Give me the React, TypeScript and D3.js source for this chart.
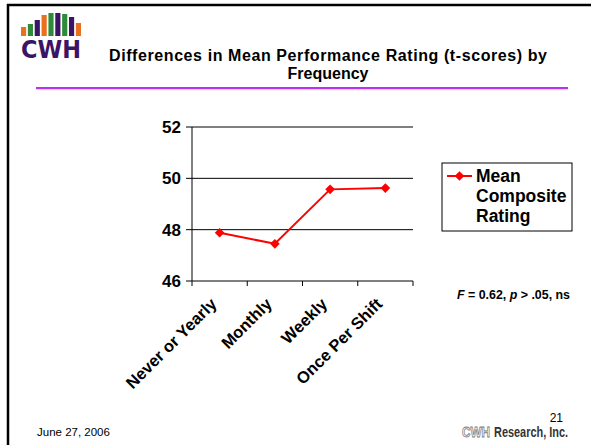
import React from "react";
import * as d3 from "d3";

const categories = ["Never or Yearly", "Monthly", "Weekly", "Once Per Shift"];
const meanComposite = [47.88, 47.45, 49.57, 49.62];
const yTicks = [46, 48, 50, 52];
const titleLines = ["Differences in Mean Performance Rating (t-scores) by", "Frequency"];
const legendLines = ["Mean", "Composite", "Rating"];
const logoBars = [
  { c: "#e8701e", h: 9 },
  { c: "#2e8b3a", h: 12 },
  { c: "#3b1466", h: 16 },
  { c: "#e8701e", h: 21 },
  { c: "#2e8b3a", h: 23 },
  { c: "#3b1466", h: 23 },
  { c: "#2e8b3a", h: 22 },
  { c: "#3b1466", h: 19 },
  { c: "#e8701e", h: 13 },
];

const FONT = "'Liberation Sans', Arial, sans-serif";

export default function App() {
  const x = d3.scaleBand<string>().domain(categories).range([192, 413]);
  const y = d3.scaleLinear().domain([46, 52]).range([281, 127]);
  const line = d3
    .line<number>()
    .x((_, i) => (x(categories[i]) as number) + x.bandwidth() / 2)
    .y((d) => y(d));
  const diamond = d3.symbol().type(d3.symbolDiamond2).size(60)() as string;
  const barX = d3.scaleBand<number>().domain(d3.range(logoBars.length)).range([21, 81]).paddingInner(0.25);

  return (
    <svg width={591} height={445} style={{ position: "absolute", left: 0, top: 0 }} fontFamily={FONT}>
      <rect x={0} y={0} width={591} height={445} fill="#fff" />
      {/* slide border */}
      <line x1={7} x2={591} y1={5} y2={5} stroke="#000" strokeWidth={2.5} />
      <line x1={8} x2={8} y1={4} y2={445} stroke="#000" strokeWidth={2.5} />

      {/* logo */}
      {logoBars.map((b, i) => (
        <rect key={i} x={barX(i)} y={36 - b.h} width={barX.bandwidth()} height={b.h} fill={b.c} />
      ))}
      <text x={21} y={58} fontSize={25} fontWeight="bold" fill="#3b1466" textLength={60} lengthAdjust="spacingAndGlyphs" fontFamily="'DejaVu Sans', sans-serif">
        CWH
      </text>

      {/* title */}
      <text x={328} y={61} textAnchor="middle" fontSize={16} fontWeight="bold" fill="#000" textLength={438} lengthAdjust="spacing">
        {titleLines[0]}
      </text>
      <text x={328} y={79} textAnchor="middle" fontSize={16} fontWeight="bold" fill="#000">
        {titleLines[1]}
      </text>
      <line x1={36} x2={568} y1={88} y2={88} stroke="#b833ee" strokeWidth={2} />
      <line x1={36} x2={568} y1={89.7} y2={89.7} stroke="#e3c2f5" strokeWidth={1} />

      {/* grid + y axis */}
      {yTicks.map((t) => (
        <g key={t}>
          <line x1={186} x2={413} y1={y(t)} y2={y(t)} stroke="#000" strokeWidth={1} />
          <text x={181} y={y(t) + 6} textAnchor="end" fontSize={17} fontWeight="bold" fill="#000">
            {t}
          </text>
        </g>
      ))}
      <line x1={192} x2={192} y1={y(52)} y2={y(46)} stroke="#000" strokeWidth={1} />
      {/* x ticks */}
      {[...categories.map((c) => x(c) as number), 413].map((v, i) => (
        <line key={i} x1={v} x2={v} y1={y(46)} y2={y(46) + 5} stroke="#000" strokeWidth={1} />
      ))}
      {categories.map((c) => {
        const cx = (x(c) as number) + x.bandwidth() / 2;
        return (
          <text
            key={c}
            transform={`translate(${cx - 2},${305}) rotate(-45)`}
            textAnchor="end"
            fontSize={16.5}
            fontWeight="bold"
            fill="#000"
          >
            {c}
          </text>
        );
      })}

      {/* series */}
      <path d={line(meanComposite) as string} fill="none" stroke="#ff0000" strokeWidth={2} />
      {meanComposite.map((v, i) => (
        <path
          key={i}
          d={diamond}
          transform={`translate(${(x(categories[i]) as number) + x.bandwidth() / 2},${y(v)})`}
          fill="#ff0000"
        />
      ))}

      {/* legend */}
      <rect x={442} y={163} width={130} height={68} fill="#fff" stroke="#000" strokeWidth={1} />
      <line x1={447} x2={472} y1={176} y2={176} stroke="#ff0000" strokeWidth={2} />
      <path d={diamond} transform="translate(459.5,176)" fill="#ff0000" />
      {legendLines.map((t, i) => (
        <text key={t} x={476} y={182 + i * 20} fontSize={17.5} fontWeight="bold" fill="#000">
          {t}
        </text>
      ))}

      {/* stats */}
      <text x={457} y={299} fontSize={12.4} fontWeight="bold" fill="#000">
        <tspan fontStyle="italic">F</tspan>
        <tspan> = 0.62, </tspan>
        <tspan fontStyle="italic">p</tspan>
        <tspan> &gt; .05, ns</tspan>
      </text>

      {/* footer */}
      <text x={37} y={436} fontSize={11.5} fill="#000">
        June 27, 2006
      </text>
      <text x={563} y={422} textAnchor="end" fontSize={12} fill="#000">
        21
      </text>
      <text x={462} y={437} fontSize={14} fontWeight="bold" fill="#fff" stroke="#777" strokeWidth={0.8} textLength={28} lengthAdjust="spacingAndGlyphs">
        CWH
      </text>
      <text x={494} y={437} fontSize={14} fontWeight="bold" fill="#333" textLength={74} lengthAdjust="spacingAndGlyphs">
        Research, Inc.
      </text>
    </svg>
  );
}
